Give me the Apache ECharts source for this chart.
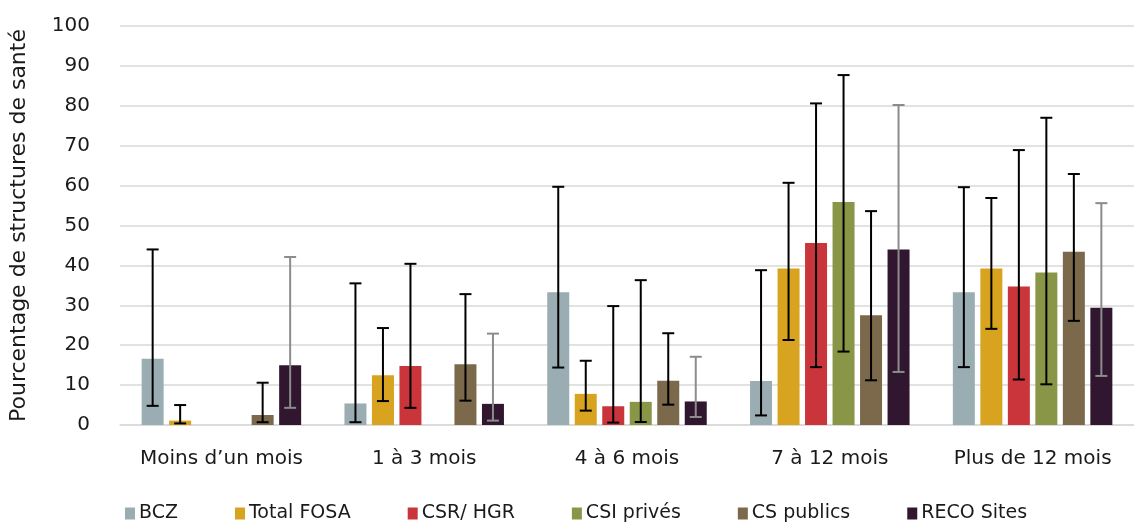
<!DOCTYPE html>
<html>
<head>
<meta charset="utf-8">
<script src="https://cdn.jsdelivr.net/npm/echarts@6/dist/echarts.min.js"></script>
<style>
html,body{margin:0;padding:0;background:#fff;overflow:hidden;}
#chart{width:1134px;height:524px;}
</style>
</head>
<body>
<div id="chart"></div>
<script>
const categories = ['Moins d\u2019un mois', '1 à 3 mois', '4 à 6 mois', '7 à 12 mois', 'Plus de 12 mois'];
const seriesNames = ['BCZ', 'Total FOSA', 'CSR/ HGR', 'CSI privés', 'CS publics', 'RECO Sites'];
const yTicks = [0, 10, 20, 30, 40, 50, 60, 70, 80, 90, 100];

const bczValues = [16.6, 5.4, 33.3, 11.0, 33.3];
const bczLow    = [4.8, 0.7, 14.4, 2.4, 14.5];
const bczHigh   = [44.0, 35.5, 59.7, 38.8, 59.6];

const fosaValues = [1.1, 12.5, 7.8, 39.2, 39.2];
const fosaLow    = [0.4, 6.0, 3.6, 21.3, 24.1];
const fosaHigh   = [5.0, 24.3, 16.1, 60.7, 56.9];

const csrValues = [0, 14.8, 4.7, 45.6, 34.7];
const csrLow    = [null, 4.3, 0.6, 14.5, 11.4];
const csrHigh   = [null, 40.4, 29.8, 80.6, 68.9];

const csiValues = [0, 0, 5.8, 55.9, 38.2];
const csiLow    = [null, null, 0.75, 18.4, 10.2];
const csiHigh   = [null, null, 36.3, 87.7, 77.0];

const cspValues = [2.5, 15.2, 11.1, 27.5, 43.4];
const cspLow    = [0.7, 6.1, 5.1, 11.2, 26.1];
const cspHigh   = [10.6, 32.8, 23.0, 53.6, 62.9];

const recoValues = [15.0, 5.3, 5.9, 44.0, 29.4];
const recoLow    = [4.3, 1.1, 2.0, 13.3, 12.3];
const recoHigh   = [42.1, 22.9, 17.1, 80.2, 55.6];

const colors = ['#9AADB2', '#D8A31F', '#C9353A', '#8A9647', '#7C684A', '#30172F'];
const errColors = ['#000000', '#000000', '#000000', '#000000', '#000000', '#8C8C8C'];

const allValues = [bczValues, fosaValues, csrValues, csiValues, cspValues, recoValues];
const allLow = [bczLow, fosaLow, csrLow, csiLow, cspLow, recoLow];
const allHigh = [bczHigh, fosaHigh, csrHigh, csiHigh, cspHigh, recoHigh];

const BAR_W = 22;
const GAP = 5.5;
const nSeries = seriesNames.length;
const FONT = 'DejaVu Sans';

const series = [];
seriesNames.forEach((name, si) => {
  series.push({
    name: name,
    type: 'bar',
    barWidth: BAR_W,
    barGap: '25%',
    itemStyle: { color: colors[si] },
    data: allValues[si],
    z: 2
  });
});
seriesNames.forEach((name, si) => {
  const data = [];
  categories.forEach((c, ci) => {
    if (allLow[si][ci] != null && allHigh[si][ci] != null) {
      data.push([ci, allLow[si][ci], allHigh[si][ci]]);
    }
  });
  const offset = -((nSeries * BAR_W + (nSeries - 1) * GAP) / 2) + BAR_W / 2 + si * (BAR_W + GAP);
  series.push({
    name: name + ' err',
    type: 'custom',
    z: 5,
    silent: true,
    renderItem: function (params, api) {
      const lo = api.coord([api.value(0), api.value(1)]);
      const hi = api.coord([api.value(0), api.value(2)]);
      const x = lo[0] + offset;
      const cap = 6;
      const style = { stroke: errColors[si], lineWidth: 2 };
      return {
        type: 'group',
        children: [
          { type: 'line', shape: { x1: x, y1: lo[1], x2: x, y2: hi[1] }, style: style },
          { type: 'line', shape: { x1: x - cap, y1: lo[1], x2: x + cap, y2: lo[1] }, style: style },
          { type: 'line', shape: { x1: x - cap, y1: hi[1], x2: x + cap, y2: hi[1] }, style: style }
        ]
      };
    },
    encode: { x: 0, y: [1, 2] },
    data: data
  });
});

const chart = echarts.init(document.getElementById('chart'), null, { renderer: 'canvas' });
chart.setOption({
  animation: false,
  backgroundColor: '#ffffff',
  textStyle: { fontFamily: FONT },
  grid: { left: 114, right: -12, top: 26, bottom: 99, containLabel: false },
  legend: {
    data: seriesNames,
    top: 499,
    left: 120,
    icon: 'rect',
    itemWidth: 10,
    itemHeight: 12,
    itemGap: 57,
    textStyle: { fontSize: 19, color: '#1a1a1a', fontFamily: FONT, padding: [0, 0, 0, -1] }
  },
  xAxis: {
    type: 'category',
    data: categories,
    axisTick: { show: false },
    axisLine: { lineStyle: { color: '#d9d9d9', width: 1.5 } },
    axisLabel: { fontSize: 20, color: '#1a1a1a', margin: 24, fontFamily: FONT, interval: 0 }
  },
  yAxis: {
    type: 'value',
    min: yTicks[0],
    max: yTicks[yTicks.length - 1],
    interval: 10,
    name: 'Pourcentage de structures de santé',
    nameLocation: 'middle',
    nameRotate: 90,
    nameGap: 90,
    nameTextStyle: { fontSize: 22, color: '#1a1a1a', fontFamily: FONT },
    axisLine: { show: false },
    axisTick: { show: false },
    axisLabel: { fontSize: 20, color: '#1a1a1a', margin: 30, fontFamily: FONT },
    splitLine: { lineStyle: { color: '#d9d9d9', width: 1.5 } }
  },
  series: series
});
</script>
</body>
</html>
